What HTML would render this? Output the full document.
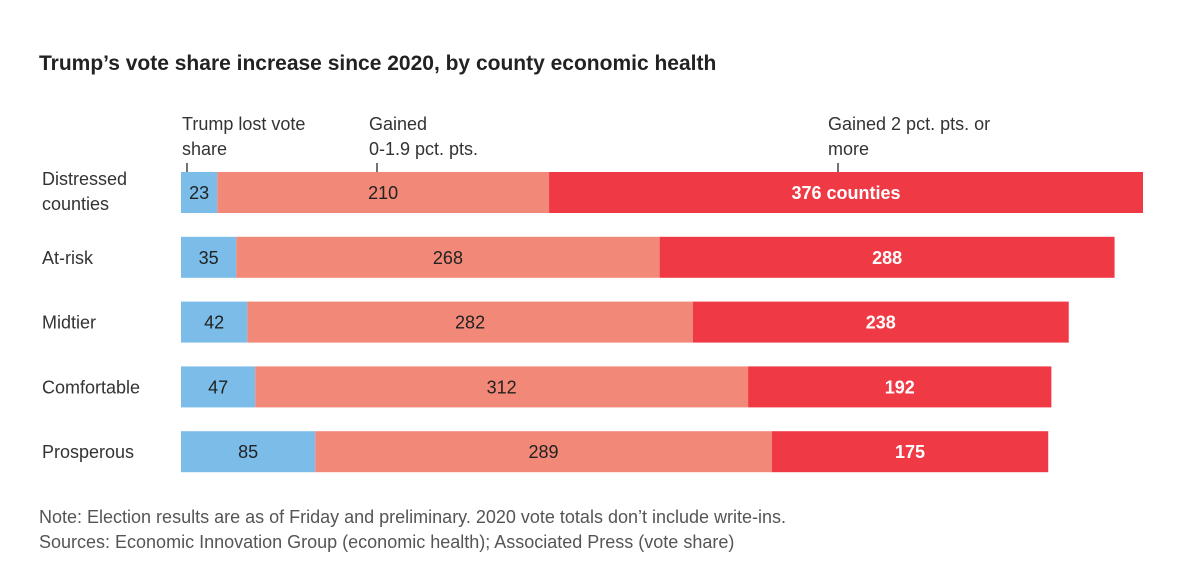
<!DOCTYPE html>
<html><head><meta charset="utf-8"><style>
body{margin:0;background:#fff;width:1204px;height:580px;overflow:hidden;font-family:"Liberation Sans",sans-serif}
</style></head><body>
<svg width="1204" height="580" style="font-family:'Liberation Sans',sans-serif">
<text x="39" y="70" font-size="21" font-weight="bold" fill="#222">Trump’s vote share increase since 2020, by county economic health</text>
<g id="legend" font-size="18" fill="#333">
<text x="182" y="130"><tspan x="182">Trump lost vote</tspan><tspan x="182" dy="25">share</tspan></text>
<line x1="187" y1="163" x2="187" y2="172" stroke="#444" stroke-width="1.5"/>
<text x="369" y="130"><tspan x="369">Gained</tspan><tspan x="369" dy="25">0-1.9 pct. pts.</tspan></text>
<line x1="377" y1="163" x2="377" y2="172" stroke="#444" stroke-width="1.5"/>
<text x="828" y="130"><tspan x="828">Gained 2 pct. pts. or</tspan><tspan x="828" dy="25">more</tspan></text>
<line x1="838" y1="163" x2="838" y2="172" stroke="#444" stroke-width="1.5"/>
</g>
<g id="bars"></g>
<text x="39" y="523" font-size="18" fill="#555">Note: Election results are as of Friday and preliminary. 2020 vote totals don’t include write-ins.</text>
<text x="39" y="548" font-size="18" fill="#555">Sources: Economic Innovation Group (economic health); Associated Press (vote share)</text>
</svg>
<script>
const categories = [["Distressed","counties"],["At-risk"],["Midtier"],["Comfortable"],["Prosperous"]];
const lost = [23,35,42,47,85];
const gainedSmall = [210,268,282,312,289];
const gainedLarge = [376,288,238,192,175];
const x0 = 181, pxPerCounty = 962/609;
const xs = v => v*pxPerCounty;
const rowY = i => 172 + i*64.8;
const barH = 41;
const colors = ["#7bbde8","#f28878","#ef3a45"];
const textCol = ["#222","#222","#fff"];
const g = document.getElementById('bars');
const NS = "http://www.w3.org/2000/svg";
categories.forEach((cat,i)=>{
  const y = rowY(i);
  const lab = document.createElementNS(NS,'text');
  
  
  lab.setAttribute('font-size','18'); lab.setAttribute('fill','#333');
  if(cat.length===2){
    lab.innerHTML = `<tspan x="42" y="${y+13}">${cat[0]}</tspan><tspan x="42" y="${y+38}">${cat[1]}</tspan>`;
  } else {
    lab.setAttribute('x',42); lab.setAttribute('y',y+27); lab.textContent=cat[0];
  }
  g.appendChild(lab);
  const vals=[lost[i],gainedSmall[i],gainedLarge[i]];
  let x=x0;
  vals.forEach((v,k)=>{
    const w=xs(v);
    const r=document.createElementNS(NS,'rect');
    
    
    r.setAttribute('x',x);r.setAttribute('y',y);r.setAttribute('width',w);r.setAttribute('height',barH);r.setAttribute('fill',colors[k]);
    g.appendChild(r);
    const t=document.createElementNS(NS,'text');
    
    
    t.setAttribute('x',x+w/2);t.setAttribute('y',y+27);t.setAttribute('text-anchor','middle');
    t.setAttribute('font-size','18');t.setAttribute('fill',textCol[k]);
    if(k===2) t.setAttribute('font-weight','bold');
    t.textContent = (i===0&&k===2)? v+" counties" : v;
    g.appendChild(t);
    x+=w;
  });
});
</script>
</body></html>
